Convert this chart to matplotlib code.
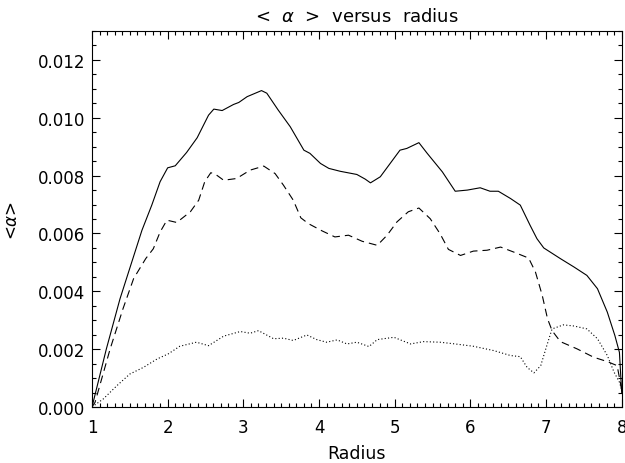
import matplotlib
matplotlib.use("Agg")
import matplotlib.pyplot as plt
from matplotlib.ticker import MultipleLocator, FormatStrFormatter

# Solid curve
r_solid = [1.0, 1.19, 1.37, 1.54, 1.66, 1.79, 1.90, 2.0, 2.10, 2.25, 2.39, 2.54, 2.61, 2.72, 2.87,
           2.94, 3.05, 3.24, 3.31, 3.46, 3.62, 3.80, 3.88, 4.02, 4.13, 4.28, 4.50, 4.61, 4.68, 4.81,
           4.94, 5.07, 5.16, 5.32, 5.43, 5.63, 5.80, 5.96, 6.13, 6.26, 6.37, 6.53, 6.66, 6.79, 6.88,
           6.97, 7.19, 7.37, 7.54, 7.68, 7.81, 7.91, 7.97, 8.0]
a_solid = [0, 2.01, 3.74, 5.13, 6.11, 6.98, 7.79, 8.27, 8.34, 8.80, 9.31, 10.09, 10.30, 10.25, 10.46,
           10.53, 10.73, 10.94, 10.85, 10.27, 9.69, 8.88, 8.77, 8.42, 8.25, 8.15, 8.04, 7.88, 7.75, 7.96,
           8.42, 8.88, 8.94, 9.14, 8.77, 8.13, 7.46, 7.50, 7.58, 7.46, 7.46, 7.21, 6.98, 6.28, 5.82,
           5.50, 5.13, 4.84, 4.55, 4.09, 3.28, 2.47, 1.89, 0.5]

# Dashed curve
r_dashed = [1.0, 1.04, 1.24, 1.41, 1.55, 1.71, 1.81, 1.90, 1.99, 2.12, 2.30, 2.41, 2.49, 2.57, 2.63,
            2.74, 2.91, 3.09, 3.27, 3.42, 3.53, 3.66, 3.76, 3.86, 4.04, 4.21, 4.39, 4.57, 4.77, 4.90,
            5.03, 5.18, 5.32, 5.47, 5.60, 5.71, 5.87, 6.04, 6.22, 6.40, 6.57, 6.77, 6.86, 6.95, 7.02,
            7.08, 7.19, 7.41, 7.63, 7.81, 7.94, 8.0]
a_dashed = [0, 0.16, 2.01, 3.40, 4.44, 5.13, 5.47, 6.05, 6.46, 6.38, 6.75, 7.15, 7.79, 8.10, 8.05,
            7.84, 7.90, 8.19, 8.33, 8.07, 7.67, 7.15, 6.54, 6.34, 6.09, 5.88, 5.94, 5.73, 5.59, 5.94,
            6.40, 6.75, 6.88, 6.51, 5.99, 5.45, 5.24, 5.39, 5.42, 5.53, 5.36, 5.15, 4.67, 3.86, 3.05,
            2.64, 2.26, 2.01, 1.72, 1.57, 1.43, 0.6]

# Dotted curve
r_dotted = [1.0, 1.15, 1.33, 1.50, 1.68, 1.86, 2.01, 2.16, 2.38, 2.54, 2.74, 2.96, 3.09, 3.20, 3.40,
            3.53, 3.66, 3.84, 3.97, 4.10, 4.24, 4.37, 4.50, 4.66, 4.77, 4.99, 5.21, 5.38, 5.60, 5.80,
            6.04, 6.31, 6.53, 6.66, 6.75, 6.84, 6.93, 7.01, 7.08, 7.23, 7.37, 7.54, 7.68, 7.81, 7.90,
            7.97, 8.0]
a_dotted = [0, 0.28, 0.74, 1.14, 1.37, 1.66, 1.84, 2.10, 2.24, 2.12, 2.45, 2.61, 2.55, 2.64, 2.36,
            2.38, 2.30, 2.49, 2.33, 2.24, 2.32, 2.18, 2.24, 2.09, 2.33, 2.41, 2.18, 2.26, 2.24, 2.18,
            2.10, 1.95, 1.78, 1.74, 1.37, 1.18, 1.43, 2.12, 2.70, 2.84, 2.80, 2.70, 2.36, 1.78, 1.20,
            0.86, 0.6]

scale = 1e-3
x_ticks = [1, 2, 3, 4, 5, 6, 7, 8]
y_ticks = [0.000, 0.002, 0.004, 0.006, 0.008, 0.010, 0.012]

fig = plt.figure(figsize=(6.25, 4.64), dpi=100)
ax = fig.add_axes([0.1472, 0.1207, 0.9947 - 0.1472, 0.931 - 0.1207])

ax.plot(r_solid, [v * scale for v in a_solid], color="black", lw=0.8, linestyle="-")
ax.plot(r_dashed, [v * scale for v in a_dashed], color="black", lw=0.8, linestyle=(0, (7, 4.5)))
ax.plot(r_dotted, [v * scale for v in a_dotted], color="black", lw=0.8, linestyle=(0, (1, 2)))

ax.set_xlim(1, 8)
ax.set_ylim(0, 0.013)
ax.set_xticks(x_ticks)
ax.set_yticks(y_ticks)
ax.xaxis.set_minor_locator(MultipleLocator(0.1))
ax.yaxis.set_minor_locator(MultipleLocator(0.0005))
ax.yaxis.set_major_formatter(FormatStrFormatter("%.3f"))

ax.tick_params(which="both", direction="in", top=True, right=True, width=0.8, labelsize=12, colors="black")
ax.tick_params(which="major", length=6)
ax.tick_params(which="minor", length=3)
ax.tick_params(axis="x", which="major", pad=8)
ax.tick_params(axis="y", which="major", pad=5)
for s in ax.spines.values():
    s.set_linewidth(0.8)

ax.set_title(r"<  $\alpha$  >  versus  radius", fontsize=13, pad=7)
ax.set_xlabel("Radius", fontsize=12.5, labelpad=6)
ax.set_ylabel(r"<$\alpha$>", fontsize=12, labelpad=12)

fig.savefig("out.png", dpi=100)
